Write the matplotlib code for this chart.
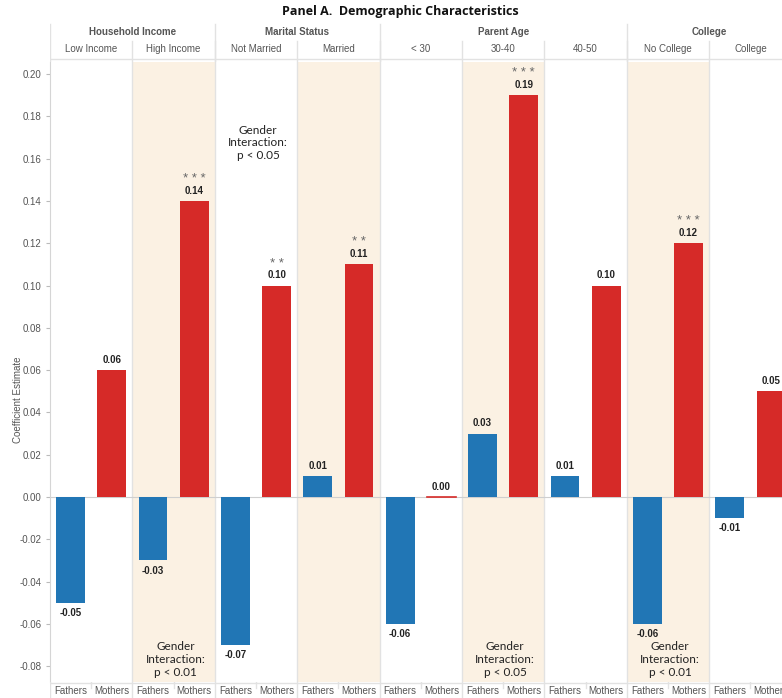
import matplotlib.pyplot as plt
import numpy as np

# --- data ---
groups = ["Household Income", "Marital Status", "Parent Age", "College"]
group_sizes = [2, 2, 3, 2]
categories = ["Low Income", "High Income", "Not Married", "Married",
              "< 30", "30-40", "40-50", "No College", "College"]
fathers = [-0.05, -0.03, -0.07, 0.01, -0.06, 0.03, 0.01, -0.06, -0.01]
mothers = [0.06, 0.14, 0.10, 0.11, 0.00, 0.19, 0.10, 0.12, 0.05]
stars = ["", "***", "**", "**", "", "***", "", "***", ""]
shaded = [1, 3, 5, 7]
interaction_p = {1: "p < 0.01", 2: "p < 0.05", 5: "p < 0.05", 7: "p < 0.01"}
interaction_top = [2]  # panels where the note sits at the top

BLUE = "#2176B5"
RED = "#D62A28"
SHADE = "#FBF1E3"
GRID = "#E2E2E2"
TXT = "#555555"

W, H = 782, 698


def rect(x0, y0, x1, y1):
    return [x0 / W, 1 - y1 / H, (x1 - x0) / W, (y1 - y0) / H]


fig = plt.figure(figsize=(W / 100, H / 100), dpi=100)
plt.rcParams["font.family"] = ["Liberation Sans", "DejaVu Sans"]

sub_w = 41.2
xmax = (W - 50) / sub_w
n = len(categories)

ax = fig.add_axes(rect(50, 62, W, 682))
ax.set_xlim(0, xmax)
ax.set_ylim(-(682 - 497) / 2115, (497 - 62) / 2115)

for i in shaded:
    ax.axvspan(2 * i, 2 * i + 2, color=SHADE, lw=0, zorder=0)
for i in range(1, n):
    ax.axvline(2 * i, color=GRID, lw=1, zorder=1)
ax.axhline(0, color="#CFCFCF", lw=0.8, zorder=1)

xf = np.arange(n) * 2 + 0.5
xm = np.arange(n) * 2 + 1.5
ax.bar(xf, fathers, width=0.7, color=BLUE, zorder=3)
ax.bar(xm, mothers, width=0.7, color=RED, zorder=3)
# 0.00 bar gets a visible sliver
for x, v in zip(xm, mothers):
    if v == 0:
        ax.plot([x - 0.35, x + 0.35], [0, 0], color=RED, lw=1.2, zorder=4)

lab_kw = dict(ha="center", fontsize=7, fontweight="bold", color="#222222", zorder=5)
for x, v in zip(xf, fathers):
    if v >= 0:
        ax.text(x, v + 0.0025, f"{v:.2f}", va="bottom", **lab_kw)
    else:
        ax.text(x, v - 0.0025, f"{v:.2f}", va="top", **lab_kw)
for x, v, s in zip(xm, mothers, stars):
    ax.text(x, v + 0.0025, f"{v:.2f}", va="bottom", **lab_kw)
    if s:
        ax.text(x, v + 0.0075, " ".join(s), ha="center", va="bottom",
                fontsize=9.5, color="#666666", zorder=5)

for i, p in interaction_p.items():
    y = 0.1674 if i in interaction_top else -0.0768
    ax.text(2 * i + 1.05, y, f"Gender\nInteraction:\n{p}", ha="center",
            va="center", fontsize=8.5, color="#222222", linespacing=1.2,
            family=["Lato", "DejaVu Sans"], zorder=6)

yt = np.round(np.arange(-0.08, 0.2001, 0.02), 2)
ax.set_yticks(yt)
ax.set_yticklabels([f"{v:.2f}" for v in yt], fontsize=7, color=TXT)
ax.tick_params(axis="y", length=3, color="#BBBBBB", pad=3)
ax.set_xticks([])
for side in ["top", "right", "bottom"]:
    ax.spines[side].set_visible(False)
ax.spines["left"].set_color("#D5D5D5")
fig.text(18 / W, 1 - 400 / H, "Coefficient Estimate", rotation=90,
         ha="center", va="center", fontsize=7, color=TXT)

# header rows
hx = fig.add_axes(rect(50, 20, W, 62))
hx.set_xlim(0, xmax)
hx.set_ylim(0, 42)
hx.axis("off")
start = 0
for g, size in zip(groups, group_sizes):
    hx.text(start * 2 + size, 42 - 12, g, ha="center", va="center",
            fontsize=7, fontweight="bold", color=TXT, clip_on=False)
    if start > 0:
        hx.plot([start * 2, start * 2], [0, 38], color=GRID, lw=1)
    start += size
hx.plot([0, 0], [0, 38], color=GRID, lw=1)
for i, c in enumerate(categories):
    hx.text(2 * i + 1, 42 - 29, c, ha="center", va="center", fontsize=7,
            color=TXT)
    if i > 0:
        hx.plot([2 * i, 2 * i], [0, 21], color=GRID, lw=1)
hx.plot([0, xmax], [3, 3], color=GRID, lw=1)

# footer row
fx = fig.add_axes(rect(50, 682, W, H))
fx.set_xlim(0, xmax)
fx.set_ylim(0, 16)
fx.axis("off")
fx.plot([0, xmax], [15.5, 15.5], color=GRID, lw=1)
for i in range(n):
    fx.text(xf[i], 7.5, "Fathers", ha="center", va="center", fontsize=7, color=TXT)
    fx.text(xm[i], 7.5, "Mothers", ha="center", va="center", fontsize=7, color=TXT)
    fx.plot([2 * i + 1, 2 * i + 1], [10, 16], color=GRID, lw=1)
    fx.plot([2 * i, 2 * i], [0, 16], color=GRID, lw=1)

fig.text(400 / W, 1 - 12 / H, "Panel A.  Demographic Characteristics",
         ha="center", va="center", fontsize=9, fontweight="bold",
         family=["Open Sans", "DejaVu Sans"], color="#111111")

fig.savefig("out.png", dpi=100)
